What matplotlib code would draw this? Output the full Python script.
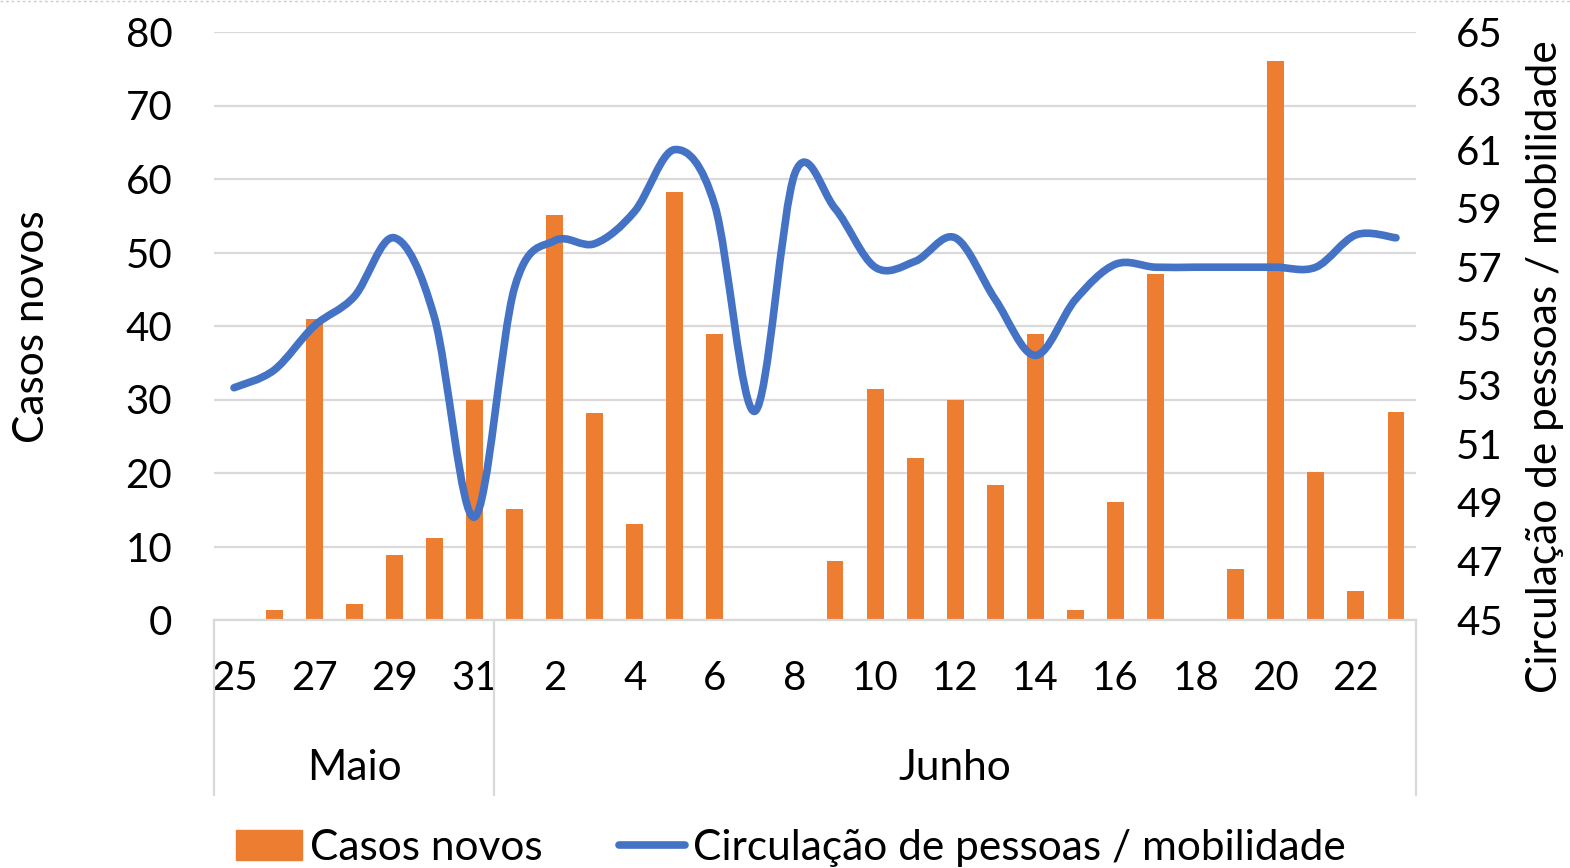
import numpy as np
import matplotlib.pyplot as plt
from matplotlib.path import Path
from matplotlib.patches import PathPatch, Patch
from matplotlib.lines import Line2D
import matplotlib.transforms as mtransforms

plt.rcParams['font.family'] = ['Lato', 'DejaVu Sans']

# Days (25 May .. 23 June)
days = [25, 26, 27, 28, 29, 30, 31] + list(range(1, 24))
months = ['Maio', 'Junho']
month_sizes = [7, 23]

# New cases (left axis)
cases = [0, 1.4, 41, 2.2, 8.9, 11.2, 30,
         15.1, 55.1, 28.2, 13, 58.2, 38.9, 0, 0, 8, 31.4, 22, 30, 18.3,
         38.9, 1.3, 16.1, 47.1, 0, 7, 76.1, 20.1, 3.9, 28.3]

# Circulation / mobility (right axis)
mobility = [52.9, 53.5, 55.0, 56.0, 58.0, 55.3, 48.5,
            56.3, 57.9, 57.8, 58.9, 61.0, 59.1, 52.1, 60.2, 59.0, 57.0,
            57.2, 58.0, 55.9, 54.0, 55.9, 57.1, 57.0, 57.0, 57.0, 57.0,
            57.0, 58.1, 58.0]

orange = '#ED7D31'
blue = '#4472C4'
grid_c = '#D9D9D9'
fs_num = 29
fs_txt = 30.5

W, H = 1570, 868
fig = plt.figure(figsize=(W / 100, H / 100), dpi=100)
ax = fig.add_axes([214 / W, 1 - 620 / H, 1202 / W, 588 / H])
ax2 = ax.twinx()

x = np.arange(len(days))
ax.bar(x, cases, width=0.42, color=orange, zorder=2)
ax.set_xlim(-0.5, len(days) - 0.5)
ax.set_ylim(0, 80)
ax.set_yticks(np.arange(0, 81, 10))
ax.yaxis.grid(True, color=grid_c, lw=1.6, zorder=0)
ax.set_axisbelow(True)
ax.tick_params(axis='y', length=0, pad=30, labelsize=fs_num)
ax.set_xticks(x[::2])
ax.set_xticklabels([str(d) for d in days[::2]])
ax.tick_params(axis='x', length=0, pad=29, labelsize=fs_num)
for s in ['top', 'left', 'right']:
    ax.spines[s].set_visible(False)
ax.spines['bottom'].set_color(grid_c)
ax.spines['bottom'].set_linewidth(1.6)

# smooth line (Catmull-Rom style bezier through the points)
pts = np.column_stack([x, mobility]).astype(float)
ext = np.vstack([pts[0], pts, pts[-1]])
verts = [pts[0]]
codes = [Path.MOVETO]
for i in range(len(pts) - 1):
    p0, p1, p2, p3 = ext[i], ext[i + 1], ext[i + 2], ext[i + 3]
    verts += [p1 + (p2 - p0) / 6, p2 - (p3 - p1) / 6, p2]
    codes += [Path.CURVE4] * 3
ax2.add_patch(PathPatch(Path(verts, codes), fill=False, edgecolor=blue,
                        lw=5.5, capstyle='round', joinstyle='round', zorder=3))
ax2.set_ylim(45, 65)
ax2.set_yticks(np.arange(45, 66, 2))
ax2.tick_params(axis='y', length=0, pad=29, labelsize=fs_num)
for s in ax2.spines.values():
    s.set_visible(False)

# month level of the category axis
trans = mtransforms.blended_transform_factory(ax.transData, ax.transAxes)
bot = (620 - 795) / 588
start = 0
bounds = [-0.5]
for m, n in zip(months, month_sizes):
    ax.text(start + (n - 1) / 2, (620 - 768) / 588, m, transform=trans,
            ha='center', va='center', fontsize=fs_txt)
    start += n
    bounds.append(start - 0.5)
for b in bounds:
    ax.axvline(b, ymin=bot, ymax=0, color=grid_c, lw=1.6, clip_on=False)

fig.text(32 / W, 1 - 327 / H, 'Casos novos', rotation=90, ha='center',
         va='center', fontsize=fs_txt)
fig.text(1545 / W, 1 - 367 / H, 'Circulação de pessoas / mobilidade',
         rotation=90, ha='center', va='center', fontsize=fs_txt)

handles = [Patch(color=orange, label='Casos novos'),
           Line2D([], [], color=blue, lw=5.5, solid_capstyle='round',
                  label='Circulação de pessoas / mobilidade')]
fig.legend(handles=handles, loc='center', ncol=2,
           bbox_to_anchor=(791 / W, 1 - 848 / H), frameon=False,
           fontsize=fs_txt, handlelength=1.55, handletextpad=0.2,
           columnspacing=1.8, borderpad=0)

fig.add_artist(Line2D([0, 1], [1 - 1 / H, 1 - 1 / H], color='#CCCCCC',
                      lw=1, ls=(0, (2, 2)), transform=fig.transFigure))

fig.savefig('out.png', dpi=100)
